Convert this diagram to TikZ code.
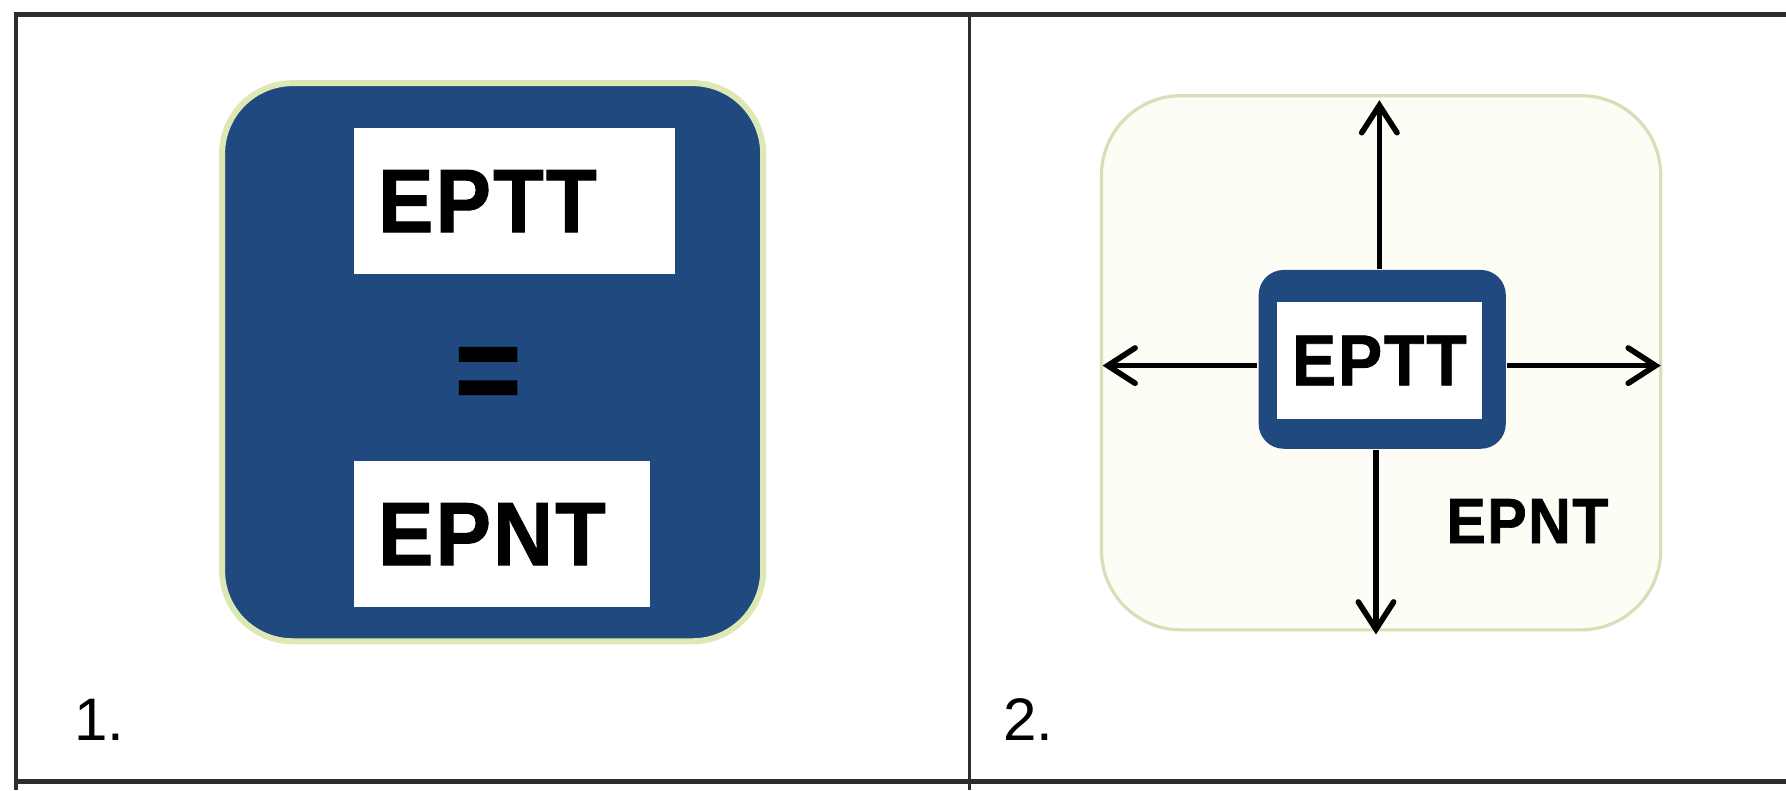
\documentclass[tikz,border=0pt]{standalone}
\usepackage{fontspec}
\setmainfont{Liberation Sans}[BoldFeatures={FakeBold=1.1,FakeStretch=0.92,LetterSpace=2.5}]
\usepackage{tikz}
\usetikzlibrary{arrows.meta,positioning}
\definecolor{panelblue}{RGB}{32,73,128}
\definecolor{glow}{RGB}{222,232,180}
\definecolor{cream}{RGB}{253,253,246}
\definecolor{creamline}{RGB}{216,222,184}
\definecolor{rulegray}{RGB}{45,45,45}

\begin{document}
\begin{tikzpicture}
[x=1cm,y=-1cm,>={Straight Barb[length=2.4mm,width=3.1mm,line cap=round]},semithick]\tikzstyle{whitebox}
=[fill=white,inner ysep=0pt,inner xsep=0.21cm,align=left,font=\fontsize{22.5pt}{22.5pt}\selectfont\bfseries]
\tikzstyle{rule}=[draw=rulegray,line width=1.3pt]
\tikzstyle{cellnum}=[anchor=base west,inner sep=0pt,font=\fontsize{15pt}{15pt}\selectfont]
\useasboundingbox (0,0) rectangle (15.68,6.94);

% table
\draw[rule] (0.12,0.13) -- (15.68,0.13);
\draw[rule] (0.14,6.86) -- (15.68,6.86);
\draw[draw=rulegray,line width=0.8pt] (0.14,0.13) -- (0.14,6.94);
\draw[draw=rulegray,line width=0.8pt] (8.51,0.13) -- (8.51,6.94);
\node[cellnum] (one) at (0.64,6.50) {1.};
\node[cellnum] (two) at (8.80,6.50) {2.};

% panel 1
\node[draw=glow,line width=1.5pt,fill=panelblue,rounded corners=0.62cm,
  minimum width=4.75cm,minimum height=4.9cm] (eqpanel) at (4.325,3.18) {};
\node[whitebox,minimum height=1.29cm,text width=2.40cm] (eptt) at (4.52,1.765) {EPTT};
\node[whitebox,minimum height=1.28cm,text width=2.18cm] (epnt) at (4.41,4.69) {EPNT};
\node[font=\fontsize{31pt}{31pt}\selectfont\bfseries,inner sep=0pt] (eq) at (4.285,3.335) {=};

% panel 2
\node[draw=creamline,line width=0.8pt,fill=cream,rounded corners=0.7cm,
  minimum width=4.91cm,minimum height=4.69cm] (field) at (12.125,3.185) {};
\node[fill=panelblue,rounded corners=0.22cm,minimum width=2.17cm,minimum height=1.57cm] (hub) at (12.135,3.155) {};
\node[fill=white,minimum width=1.80cm,minimum height=1.03cm,inner sep=0pt,
  font=\fontsize{18pt}{18pt}\selectfont\bfseries] (hubtext) at (12.11,3.165) {EPTT};
\coordinate (tipN) at (12.11,0.88);
\coordinate (tipS) at (12.08,5.57);
\coordinate (tipW) at (9.68,3.21);
\coordinate (tipE) at (14.58,3.21);

\path[->,line width=1.4pt]
(hub.north -| tipN) edge (tipN)
(hub.south -| tipS) edge (tipS)
(hub.west |- tipW) edge (tipW)
(hub.east |- tipE) edge (tipE)
;
\node[font=\fontsize{16pt}{16pt}\selectfont\bfseries,inner sep=0pt] (epntlabel) at (13.41,4.575) {EPNT};
\end{tikzpicture}
\end{document}
